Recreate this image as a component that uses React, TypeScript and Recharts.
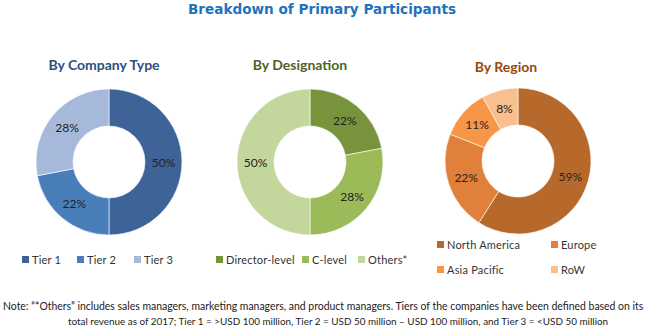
import { Cell, Pie, PieChart } from "recharts";

const companyNames = ["Tier 1", "Tier 2", "Tier 3"];
const companyValues = [50, 22, 28];
const companyColors = ["#3e6497", "#4a7ebb", "#a7b9da"];

const designationNames = ["Director-level", "C-level", "Others*"];
const designationValues = [22, 28, 50];
const designationColors = ["#77933c", "#9bbb59", "#c3d69b"];

const regionNames = ["North America", "Europe", "Asia Pacific", "RoW"];
const regionValues = [59, 22, 11, 8];
const regionColors = ["#b7692c", "#e0803a", "#f79646", "#fabf8f"];

const companyData = companyNames.map((name, i) => ({ name, value: companyValues[i] }));
const designationData = designationNames.map((name, i) => ({ name, value: designationValues[i] }));
const regionData = regionNames.map((name, i) => ({ name, value: regionValues[i] }));

const RADIAN = Math.PI / 180;

const renderLabel = (props: any) => {
  const { cx, cy, midAngle, innerRadius, outerRadius, value } = props;
  const r = (innerRadius + outerRadius) / 2;
  const x = cx + r * Math.cos(-midAngle * RADIAN);
  const y = cy + r * Math.sin(-midAngle * RADIAN);
  return (
    <text
      x={x}
      y={y}
      textAnchor="middle"
      dominantBaseline="central"
      fill="#222"
      fontSize={12}
      fontFamily="Lato, sans-serif"
    >
      {value}%
    </text>
  );
};

const font = "Lato, 'Open Sans', sans-serif";

function LegendItem({ color, label, x, y }: { color: string; label: string; x: number; y: number }) {
  return (
    <div style={{ position: "absolute", left: x, top: y, display: "flex", alignItems: "center", whiteSpace: "nowrap" }}>
      <span style={{ width: 7, height: 7, background: color, display: "inline-block", marginRight: 3 }} />
      <span style={{ fontSize: 11, color: "#333", fontFamily: font, letterSpacing: 0.2 }}>{label}</span>
    </div>
  );
}

const subtitle = (text: string, cx: number, y: number, color: string) => (
  <div
    style={{
      position: "absolute",
      left: cx - 100,
      width: 200,
      top: y,
      textAlign: "center",
      fontFamily: font,
      fontWeight: 700,
      fontSize: 14,
      color,
    }}
  >
    {text}
  </div>
);

export default function App() {
  const pieProps = {
    dataKey: "value",
    innerRadius: 36,
    outerRadius: 73,
    startAngle: 90,
    endAngle: -270,
    stroke: "#ffffff",
    strokeWidth: 0.6,
    labelLine: false,
    label: renderLabel,
    isAnimationActive: false,
  };
  return (
    <div style={{ position: "absolute", left: 0, top: 0, width: 650, height: 333, background: "#fff", overflow: "hidden" }}>
      <div
        style={{
          position: "absolute",
          left: 0,
          width: 650,
          top: 1,
          textAlign: "center",
          fontFamily: "'DejaVu Sans', sans-serif",
          fontWeight: 700,
          fontSize: 13.6,
          color: "#1f72be",
        }}
      >
        <span style={{ position: "relative", left: -3 }}>Breakdown of Primary Participants</span>
      </div>

      {subtitle("By Company Type", 104, 56, "#2d4f7c")}
      {subtitle("By Designation", 300, 56, "#4f6228")}
      {subtitle("By Region", 506, 58, "#984807")}

      <div style={{ position: "absolute", left: 0, top: 0 }}>
        <PieChart width={650} height={240}>
          <Pie {...pieProps} data={companyData} cx={104} cy={157}>
            {companyData.map((d, i) => (
              <Cell key={d.name} fill={companyColors[i]} />
            ))}
          </Pie>
          <Pie {...pieProps} data={designationData} cx={305} cy={157}>
            {designationData.map((d, i) => (
              <Cell key={d.name} fill={designationColors[i]} />
            ))}
          </Pie>
          <Pie {...pieProps} data={regionData} cx={513} cy={156}>
            {regionData.map((d, i) => (
              <Cell key={d.name} fill={regionColors[i]} />
            ))}
          </Pie>
        </PieChart>
      </div>

      <LegendItem color={companyColors[0]} label={companyNames[0]} x={22} y={253} />
      <LegendItem color={companyColors[1]} label={companyNames[1]} x={77} y={253} />
      <LegendItem color={companyColors[2]} label={companyNames[2]} x={134} y={253} />

      <LegendItem color={designationColors[0]} label={designationNames[0]} x={216} y={253} />
      <LegendItem color={designationColors[1]} label={designationNames[1]} x={302} y={253} />
      <LegendItem color={designationColors[2]} label={designationNames[2]} x={358} y={253} />

      <LegendItem color={regionColors[0]} label={regionNames[0]} x={437} y={238} />
      <LegendItem color={regionColors[1]} label={regionNames[1]} x={551} y={238} />
      <LegendItem color={regionColors[2]} label={regionNames[2]} x={437} y={263} />
      <LegendItem color={regionColors[3]} label={regionNames[3]} x={551} y={263} />

      <div
        style={{
          position: "absolute",
          left: 3,
          top: 299,
          width: 648,
          fontFamily: font,
          fontSize: 10.45,
          lineHeight: "15px",
          color: "#222",
          whiteSpace: "nowrap",
        }}
      >
        <div>
          Note: “*Others” includes sales managers, marketing managers, and product managers. Tiers of the companies have been defined based on its
        </div>
        <div style={{ paddingLeft: 65, fontSize: 9.9 }}>
          total revenue as of 2017; Tier 1 = &gt;USD 100 million, Tier 2 = USD 50 million – USD 100 million, and Tier 3 = &lt;USD 50 million
        </div>
      </div>
    </div>
  );
}
